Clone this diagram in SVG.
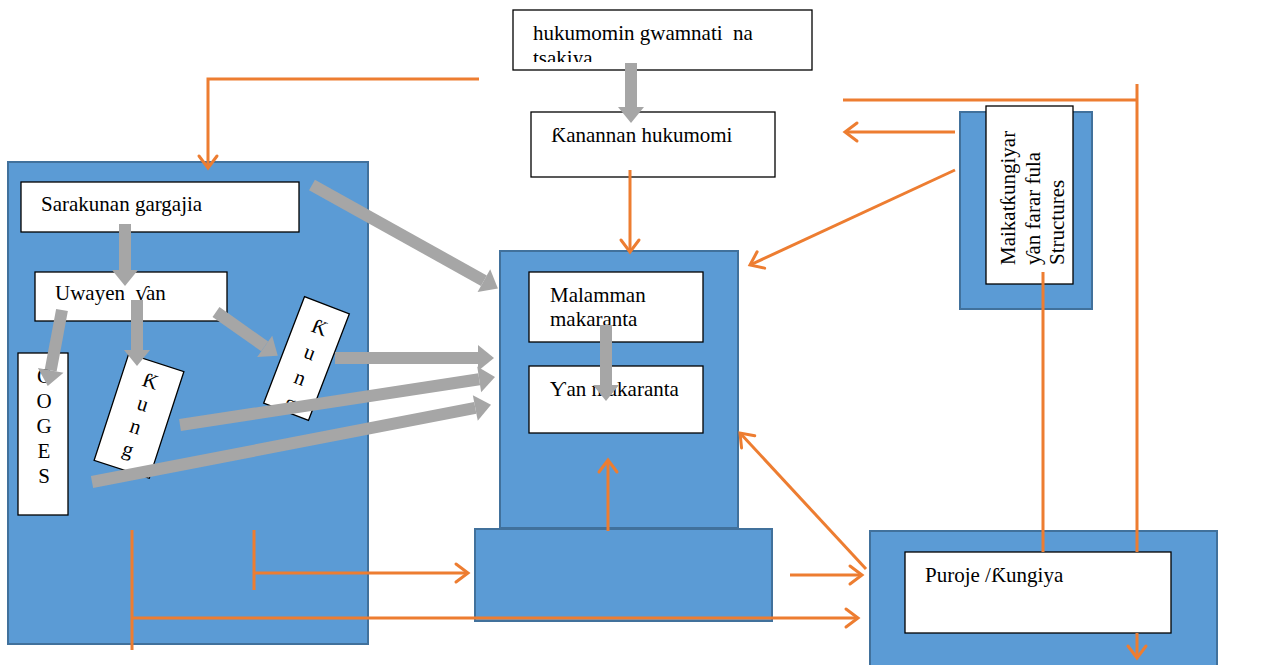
<svg xmlns="http://www.w3.org/2000/svg" width="1279" height="665" viewBox="0 0 1279 665">
<style>
.blue{fill:#5B9BD5;stroke:#41719C;stroke-width:2}
.wb{fill:#fff;stroke:#000;stroke-width:1.3}
.t{font-family:"Liberation Serif","Times New Roman",serif;font-size:21px;fill:#000;white-space:pre}
.tm{text-anchor:middle}
.or{fill:none;stroke:#ED7D31;stroke-width:3}
.oa{marker-end:url(#oh)}
.gr{stroke:#A6A6A6;stroke-width:12;marker-end:url(#gh)}
</style>
<defs>
<marker id="oh" markerUnits="userSpaceOnUse" viewBox="-15 -12 17 24" markerWidth="17" markerHeight="24" refX="0" refY="0" orient="auto" overflow="visible">
<path d="M-12,-9 L0,0 L-12,9" fill="none" stroke="#ED7D31" stroke-width="3" stroke-linecap="round" stroke-linejoin="miter"/>
</marker>
<marker id="gh" markerUnits="userSpaceOnUse" viewBox="0 -14 17 28" markerWidth="17" markerHeight="28" refX="0" refY="0" orient="auto" overflow="visible">
<path d="M0,-13 L16,0 L0,13 Z" fill="#A6A6A6"/>
</marker>
<clipPath id="c1"><rect x="513" y="10" width="299" height="52"/></clipPath>
</defs>

<g id="hukumomin">
<rect class="wb" x="513" y="10" width="299" height="60"/>
<g clip-path="url(#c1)">
<text class="t" x="533" y="40" xml:space="preserve">hukumomin gwamnati  na</text>
<text class="t" x="533" y="65">tsakiya</text>
</g>
</g>

<g id="kanannan">
<rect class="wb" x="531" y="112" width="244" height="65"/>
<text class="t" x="551" y="142">Ƙanannan hukumomi</text>
</g>

<g id="left-group">
<rect class="blue" x="8" y="162" width="360" height="482"/>
</g>
<g id="sarakunan">
<rect class="wb" x="21" y="182" width="278" height="50"/>
<text class="t" x="41" y="211">Sarakunan gargajia</text>
</g>
<g id="uwayen">
<rect class="wb" x="35" y="272" width="192" height="49"/>
<text class="t" x="55" y="300" xml:space="preserve">Uwayen  ƴan</text>
</g>
<g id="coges">
<rect class="wb" x="18" y="353" width="50" height="162"/>
<text class="t tm" x="44" y="383">C</text>
<text class="t tm" x="44" y="408">O</text>
<text class="t tm" x="44" y="433">G</text>
<text class="t tm" x="44" y="458">E</text>
<text class="t tm" x="44" y="483">S</text>
</g>
<g id="kung1" transform="translate(139,416) rotate(18)">
<rect class="wb" x="-29" y="-56" width="58" height="112"/>
<text class="t tm" x="0" y="-30">Ƙ</text>
<text class="t tm" x="0" y="-6">u</text>
<text class="t tm" x="0" y="18">n</text>
<text class="t tm" x="0" y="42">g</text>
</g>
<g id="kung2" transform="translate(306.5,358.5) rotate(21)">
<rect class="wb" x="-24" y="-57" width="48" height="114"/>
<text class="t tm" x="1" y="-27">Ƙ</text>
<text class="t tm" x="1" y="0">u</text>
<text class="t tm" x="1" y="27">n</text>
<text class="t tm" x="1" y="54">g</text>
</g>

<g id="center">
<rect class="blue" x="500" y="251" width="238" height="277"/>
</g>
<g id="malamman">
<rect class="wb" x="529" y="272" width="174" height="70"/>
<text class="t" x="550" y="302">Malamman</text>
<text class="t" x="550" y="326">makaranta</text>
</g>
<g id="yan-makaranta">
<rect class="wb" x="529" y="366" width="174" height="67"/>
<text class="t" x="550" y="396">Ƴan makaranta</text>
</g>
<g id="bottom-center">
<rect class="blue" x="475" y="529" width="297" height="92"/>
</g>

<g id="maikat">
<rect class="blue" x="960" y="112" width="132" height="197"/>
<rect class="wb" x="986" y="106" width="87" height="178"/>
<text class="t" transform="translate(1015,265) rotate(-90)">Maikatƙungiyar</text>
<text class="t" transform="translate(1040,265) rotate(-90)">ƴan farar fula</text>
<text class="t" transform="translate(1064,265) rotate(-90)">Structures</text>
</g>

<g id="puroje">
<rect class="blue" x="870" y="531" width="347" height="140"/>
<rect class="wb" x="905" y="552" width="266" height="81"/>
<text class="t" x="925" y="582">Puroje /Ƙungiya</text>
</g>

<g id="connectors">
<line class="gr" x1="631" y1="63" x2="631" y2="107"/>
<line class="gr" x1="125" y1="224" x2="125" y2="270"/>
<line class="gr" x1="312" y1="185" x2="483.9" y2="280.7"/>
<line class="gr" x1="62" y1="310" x2="50.7" y2="370.3"/>
<line class="gr" x1="137" y1="300" x2="137" y2="350"/>
<line class="gr" x1="216" y1="312" x2="264.7" y2="346.4"/>
<line class="gr" x1="335" y1="358" x2="478" y2="358"/>
<line class="gr" x1="180" y1="425" x2="479.2" y2="379.3"/>
<line class="gr" x1="92" y1="482" x2="475.3" y2="407.9"/>
<line class="gr" x1="606" y1="325" x2="606" y2="385"/>

<path class="or oa" d="M479,79 H208 V168"/>
<line class="or oa" x1="630" y1="170" x2="630" y2="252"/>
<line class="or" x1="843" y1="100" x2="1137" y2="100"/>
<line class="or" x1="1137" y1="84" x2="1137" y2="552"/>
<line class="or oa" x1="1137" y1="633" x2="1137" y2="658"/>
<line class="or oa" x1="955" y1="132" x2="845" y2="132"/>
<line class="or oa" x1="955" y1="170" x2="750" y2="265"/>
<line class="or" x1="1043" y1="272" x2="1043" y2="552"/>
<line class="or" x1="132" y1="530" x2="132" y2="650"/>
<line class="or oa" x1="132" y1="618" x2="858" y2="618"/>
<line class="or" x1="254" y1="530" x2="254" y2="590"/>
<line class="or oa" x1="254" y1="573" x2="468" y2="573"/>
<line class="or oa" x1="608" y1="531" x2="608" y2="460"/>
<line class="or oa" x1="790" y1="575" x2="862" y2="575"/>
<line class="or oa" x1="866" y1="569" x2="740" y2="433"/>
</g>
</svg>
